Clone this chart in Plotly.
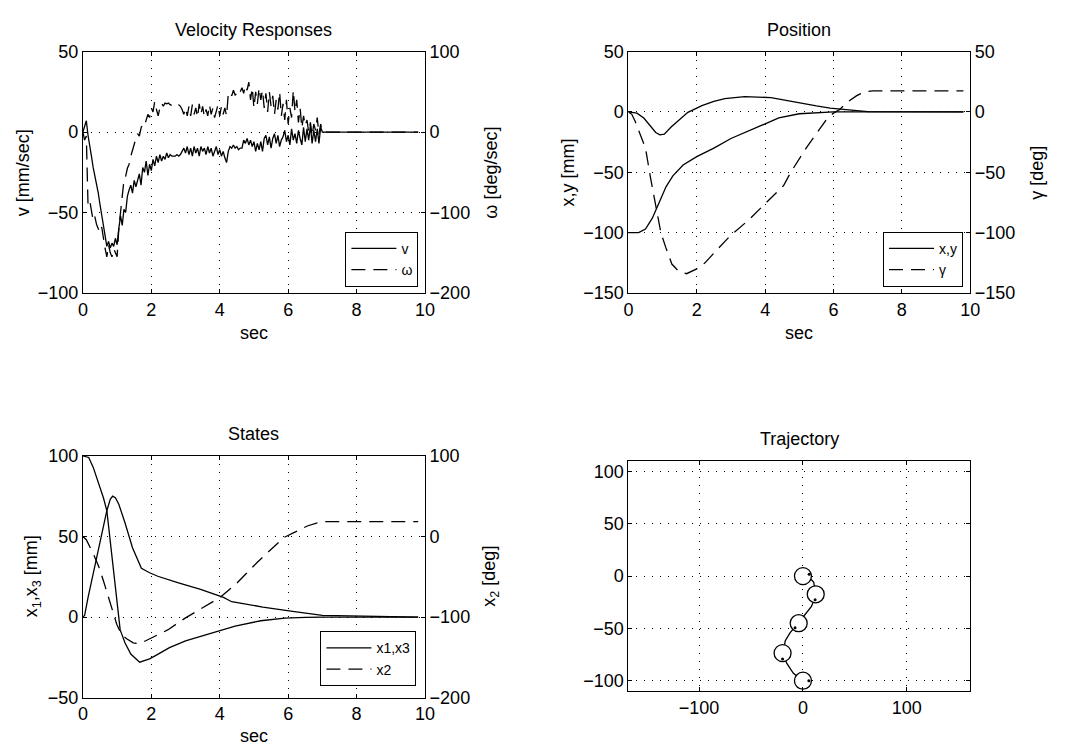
import numpy as np
import plotly.graph_objects as go

# ---------------- data ----------------
# Velocity responses (sampled every 0.05 s from 0 to 7 s, then flat to 9.8 s)
vel_t = [round(0.05 * i, 2) for i in range(141)] + [9.8]
vel_v = [0, 3, 7, -2, -10, -15, -22, -27, -33, -38,
         -45, -52, -58, -65, -71, -68, -72, -69, -71, -66,
         -70, -60, -52, -58, -48, -50, -40, -36, -33, -38,
         -30, -34, -29, -26, -33, -22, -25, -18, -27, -20,
         -24, -17, -21, -15, -19, -14, -18, -15, -17, -13,
         -16, -14, -15, -15, -15, -14, -15, -14, -12, -10,
         -13, -9, -14, -10, -15, -9, -13, -10, -15, -9,
         -12, -10, -14, -9, -13, -10, -15, -12, -9, -14,
         -11, -15, -12, -16, -19, -12, -9, -10, -8, -10,
         -9, -11, -10, -10, -5, -7, -4, -8, -5, -9,
         -6, -12, -7, -11, -6, -12, -4, -2, -8, -3,
         -10, -4, -1, -7, -2, -9, -5, -3, 1, -6,
         -2, -8, 2, -5, -1, -7, 1, -4, -8, 3,
         -6, 2, -5, 4, -7, 1, -6, 2, -7, 3,
         0, 0]
vel_w = [0, -10, -5, -90, -85, -100, -110, -105, -115, -120,
         -125, -118, -135, -145, -155, -140, -150, -155, -145, -150,
         -155, -120, -95, -80, -60, -55, -45, -40, -30, -22,
         -15, -8, -2, -5, 5, 10, 8, 15, 22, 18,
         30, 25, 38, 28, 20, 30, 36, 32, 36, 35,
         36, 34, 33, 34, 35, 33, 34, 32, 28, 22,
         30, 20, 32, 20, 34, 22, 30, 18, 35, 22,
         32, 19, 28, 20, 34, 22, 30, 18, 26, 34,
         20, 32, 22, 30, 20, 48, 50, 45, 52, 46,
         48, 45, 50, 55, 48, 58, 52, 62, 40, 55,
         30, 50, 35, 55, 40, 52, 30, 48, 25, 50,
         32, 45, 22, 40, 28, 50, 20, 35, 15, 40,
         10, 30, 18, 52, 25, 40, 12, 30, 5, 20,
         8, 15, 0, 12, -5, 10, 2, 18, -3, 10,
         0, 0]

# Position
pos_x_t = [0, 0.25, 0.45, 0.65, 0.8, 0.92, 1.05, 1.25, 1.5, 1.74, 2.15, 2.5, 2.82,
           3.4, 4.17, 4.6, 5.03, 5.5, 5.9, 6.4, 7.0, 9.8]
pos_x = [0, -1, -5, -12, -17, -19, -18.5, -12.5, -6.5, -0.3, 5.2, 8.7, 11,
         12.6, 11.9, 9.5, 7, 5, 3.2, 1.6, 0.3, 0]
pos_y_t = [0, 0.3, 0.5, 0.7, 0.9, 1.1, 1.3, 1.6, 2.0, 2.5, 3.0, 3.5, 4.0, 4.4,
           5.0, 5.5, 6.0, 9.8]
pos_y = [-100, -100, -97, -88, -75, -62, -53, -44, -37, -30, -22, -16, -10, -5,
         -1.5, -0.5, 0, 0]
gam_t = [0, 0.1, 0.2, 0.37, 0.5, 0.65, 0.8, 0.95, 1.09, 1.27, 1.47, 1.7, 2.0, 2.24,
         2.6, 3.0, 3.5, 3.97, 4.54, 4.75, 4.92, 5.2, 5.5, 5.8, 6.0, 6.18, 6.4, 6.68,
         6.9, 7.15, 9.8]
gam = [0, -2, -8, -20, -30, -55, -79, -100, -112, -126, -132, -134, -130, -125,
       -114, -102, -90, -77, -61, -50, -42, -30, -18, -6, -1, 2, 8, 13.5,
       16.5, 17.5, 17.5]

# States
x1_t = [0, 0.17, 0.3, 0.46, 0.6, 0.7, 0.84, 0.94, 1.09, 1.23, 1.4, 1.66, 1.95, 2.2,
        2.53, 3.0, 3.5, 3.97, 4.45, 5.2, 5.9, 6.5, 7.0, 9.8]
x1 = [100, 99, 93, 83, 74, 66, 39, 20, -8, -16, -23, -28, -26, -23,
      -19, -14.8, -11.5, -8.7, -5.7, -2.3, -0.7, -0.2, 0, 0]
x3_t = [0, 0.05, 0.15, 0.3, 0.5, 0.7, 0.8, 0.87, 0.95, 1.05, 1.23, 1.45, 1.71, 1.95,
        2.19, 2.77, 3.44, 4.11, 4.35, 4.59, 5.26, 6.13, 7.0, 9.8]
x3 = [0, 1, 12, 27, 48, 66, 73, 75, 74, 70, 58.5, 43, 30.3, 27.5,
      25.3, 21.3, 17.2, 12.2, 9.5, 8.6, 6.2, 3.5, 1, 0]
x2_t = [0, 0.1, 0.32, 0.46, 0.6, 0.75, 0.99, 1.13, 1.28, 1.47, 1.6, 1.81, 2.1, 2.48,
        3.0, 3.5, 4.0, 4.5, 4.83, 5.1, 5.4, 5.7, 5.89, 6.18, 6.56, 6.85, 7.1, 9.8]
x2 = [0, -4, -23, -37, -55, -75, -109, -122, -127, -132, -133, -130, -124, -116,
      -101, -89, -76, -58, -43, -32, -20, -8, -1, 5, 13, 17, 18.5, 18.5]

# Trajectory
traj_x = [0, -9.2, -15.5, -19.3, -17, -12.3, -5.4, 1.9, 8.2, 12.3, 10.4, 5, 0]
traj_y = [-100, -92.9, -83.5, -74, -61.8, -54, -46, -37, -29, -18.3, -6, 0, 0]
robot_x = [0, 12.3, -4.1, -19.6, 0]
robot_y = [0, -17.4, -45, -73.6, -100]
dot_x = [6, 11.7, -7.6, -19.6, 5.7]
dot_y = [1.9, -22.7, -49.4, -79.2, -100]

# ---------------- figure ----------------
W, H = 1066, 756
FONT = "Liberation Sans, Arial, Helvetica, sans-serif"
FS = 18
LW = 1.3
DASH = "14px,8px"

def px_dom(a, b, total):
    return [a / total, b / total]

def ydom(top, bot):
    return [1 - bot / H, 1 - top / H]

xd_left = px_dom(79, 426, W)
xd_right = px_dom(632.3, 979, W)
yd_top = ydom(42.7, 290.7)
yd_bot3 = ydom(458, 706.3)
yd_bot4 = ydom(463.3, 699.7)

GRID = dict(showgrid=True, gridcolor="black", gridwidth=1, griddash="1px,7px")
COMMON = dict(showline=True, linecolor="black", linewidth=1, ticks="inside",
              ticklen=4, tickcolor="black", zeroline=False,
              tickfont=dict(family=FONT, size=FS, color="black"))

fig = go.Figure()

def line(x, y, xa, ya, name=None, dash=None, legend=None, show=True):
    fig.add_trace(go.Scatter(
        x=x, y=y, xaxis=xa, yaxis=ya, mode="lines", name=name,
        line=dict(color="black", width=LW, dash=dash),
        legend=legend, showlegend=show and name is not None))

# Panel 1
line(vel_t, vel_v, "x", "y", "v", None, "legend")
line(vel_t, vel_w, "x", "y2", "ω", DASH, "legend")
# Panel 2
line(pos_x_t, pos_x, "x2", "y3", "x,y", None, "legend2")
line(pos_y_t, pos_y, "x2", "y3", None, None, "legend2", False)
line(gam_t, gam, "x2", "y4", "γ", DASH, "legend2")
# Panel 3
line(x1_t, x1, "x3", "y5", "x1,x3", None, "legend3")
line(x3_t, x3, "x3", "y5", None, None, "legend3", False)
line(x2_t, x2, "x3", "y6", "x2", DASH, "legend3")
# Panel 4
fig.add_trace(go.Scatter(x=traj_x, y=traj_y, xaxis="x4", yaxis="y7", mode="lines",
                         line=dict(color="black", width=LW), showlegend=False))
fig.add_trace(go.Scatter(x=robot_x, y=robot_y, xaxis="x4", yaxis="y7", mode="markers",
                         marker=dict(symbol="circle", size=17, color="white",
                                     line=dict(color="black", width=1.3)),
                         showlegend=False))
fig.add_trace(go.Scatter(x=dot_x, y=dot_y, xaxis="x4", yaxis="y7", mode="markers",
                         marker=dict(symbol="circle", size=3, color="black"),
                         showlegend=False))

tx = dict(range=[0, 10], tickvals=[0, 2, 4, 6, 8, 10], mirror="ticks", **GRID, **COMMON)

layout = dict(
    width=W, height=H, margin=dict(l=0, r=0, t=0, b=0),
    paper_bgcolor="white", plot_bgcolor="white",
    font=dict(family=FONT, size=FS, color="black"),
    xaxis=dict(domain=xd_left, anchor="y", **tx),
    yaxis=dict(domain=yd_top, anchor="x", range=[-100, 50], tickvals=[-100, -50, 0, 50],
               mirror=True, **GRID, **COMMON),
    yaxis2=dict(overlaying="y", side="right", anchor="x", range=[-200, 100],
                tickvals=[-200, -100, 0, 100], showgrid=False, **COMMON),
    xaxis2=dict(domain=xd_right, anchor="y3", **tx),
    yaxis3=dict(domain=yd_top, anchor="x2", range=[-150, 50],
                tickvals=[-150, -100, -50, 0, 50], mirror=True, **GRID, **COMMON),
    yaxis4=dict(overlaying="y3", side="right", anchor="x2", range=[-150, 50],
                tickvals=[-150, -100, -50, 0, 50], showgrid=False, **COMMON),
    xaxis3=dict(domain=xd_left, anchor="y5", **tx),
    yaxis5=dict(domain=yd_bot3, anchor="x3", range=[-50, 100],
                tickvals=[-50, 0, 50, 100], mirror=True, **GRID, **COMMON),
    yaxis6=dict(overlaying="y5", side="right", anchor="x3", range=[-200, 100],
                tickvals=[-200, -100, 0, 100], showgrid=False, **COMMON),
    xaxis4=dict(domain=xd_right, anchor="y7", range=[-168, 161],
                tickvals=[-100, 0, 100], mirror="ticks", **GRID, **COMMON),
    yaxis7=dict(domain=yd_bot4, anchor="x4", range=[-110, 110],
                tickvals=[-100, -50, 0, 50, 100], mirror="ticks", **GRID, **COMMON),
)

LEG = dict(xanchor="right", yanchor="bottom", bordercolor="black", borderwidth=1,
           bgcolor="white", font=dict(family=FONT, size=14, color="black"),
           itemwidth=45, tracegroupgap=0)
layout["legend"] = dict(x=419.3 / W, y=1 - 284.3 / H, **LEG)
layout["legend2"] = dict(x=971.7 / W, y=1 - 284.3 / H, **LEG)
layout["legend3"] = dict(x=417.3 / W, y=1 - 694.7 / H, **LEG)
fig.update_layout(**layout)

def ann(text, x, y, angle=0, size=FS):
    fig.add_annotation(text=text, x=x / W, y=1 - y / H, xref="paper", yref="paper",
                       showarrow=False, textangle=angle, xanchor="center",
                       yanchor="middle", font=dict(family=FONT, size=size, color="black"))

# Panel 1 texts
ann("Velocity Responses", 252.5, 21)
ann("sec", 252.5, 332)
ann("v [mm/sec]", 18, 167, -90)
ann("ω [deg/sec]", 493, 167, -90)
# Panel 2 texts
ann("Position", 805.6, 21)
ann("sec", 805.6, 332)
ann("x,y [mm]", 571, 167, -90)
ann("γ [deg]", 1046, 167, -90)
# Panel 3 texts
ann("States", 252.5, 436)
ann("sec", 252.5, 746)
ann("x<sub>1</sub>,x<sub>3</sub> [mm]", 28, 582, -90)
ann("x<sub>2</sub> [deg]", 493, 582, -90)
# Panel 4 texts
ann("Trajectory", 805.6, 441)

fig.write_html("out.html")
